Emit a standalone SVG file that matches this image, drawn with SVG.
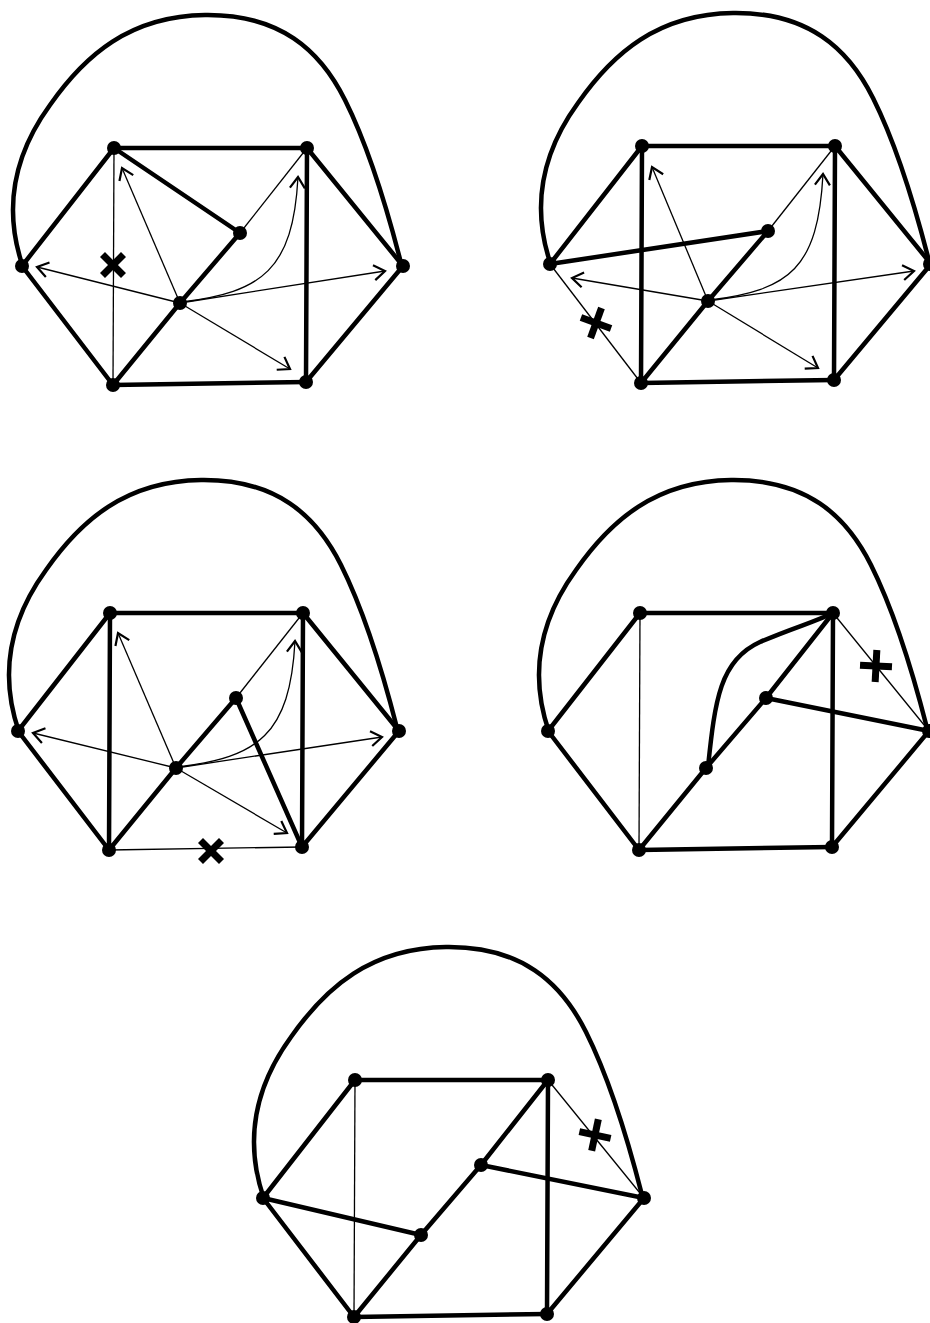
<svg xmlns="http://www.w3.org/2000/svg" xmlns:xlink="http://www.w3.org/1999/xlink" width="930" height="1323" viewBox="0 0 930 1323">
<style>
.thick{fill:none;stroke:#000;stroke-width:4.5;stroke-linecap:round;stroke-linejoin:round}
.thin{fill:none;stroke:#000;stroke-width:1.3}
.arr{fill:none;stroke:#000;stroke-width:1.3;marker-end:url(#vee)}
.node{fill:#000}
.mark{stroke:#000;stroke-width:7;stroke-linecap:butt}
</style>
<defs>
<marker id="vee" markerUnits="userSpaceOnUse" markerWidth="30" markerHeight="30" viewBox="-15 -15 30 30" refX="0" refY="0" orient="auto" overflow="visible">
<path d="M -11,-7.5 L 0,0 L -11,7.5" fill="none" stroke="#000" stroke-width="2.2"/>
</marker>
<g id="xmark"><line class="mark" x1="-10.5" y1="-10.5" x2="10.5" y2="10.5"/><line class="mark" x1="10.5" y1="-10.5" x2="-10.5" y2="10.5"/></g>
<g id="plusmark"><line class="mark" x1="-16" y1="0" x2="16" y2="0"/><line class="mark" x1="0" y1="-16" x2="0" y2="16"/></g>
<path id="outer" class="thick" d="M 23,267 C 5,215 10,160 50,105 C 85,55 130,16 205,15 C 280,14 320,50 345,100 C 370,150 390,220 401,263"/>
</defs>

<!-- Panel 1 -->
<g id="panel1" transform="translate(0,0)">
<g id="p1-connectors">
<use href="#outer"/>
<line class="thick" x1="114" y1="148" x2="307" y2="148"/>
<line class="thick" x1="114" y1="148" x2="22" y2="266"/>
<line class="thick" x1="22" y1="266" x2="113" y2="385"/>
<line class="thick" x1="113" y1="385" x2="306" y2="382"/>
<line class="thick" x1="307" y1="148" x2="306" y2="382"/>
<line class="thick" x1="307" y1="148" x2="403" y2="266"/>
<line class="thick" x1="403" y1="266" x2="306" y2="382"/>
<line class="thick" x1="114" y1="148" x2="240" y2="233"/>
<line class="thick" x1="240" y1="233" x2="180" y2="303"/>
<line class="thick" x1="180" y1="303" x2="113" y2="385"/>
<line class="thin" x1="114" y1="148" x2="113" y2="385"/>
<line class="thin" x1="240" y1="233" x2="307" y2="148"/>
<line class="arr" x1="180" y1="303" x2="122" y2="168"/>
<line class="arr" x1="180" y1="303" x2="37" y2="267"/>
<line class="arr" x1="180" y1="303" x2="385" y2="271"/>
<line class="arr" x1="180" y1="303" x2="290" y2="369"/>
<path class="arr" d="M 182,302 C 262,292 293,270 298,177"/>
<use href="#xmark" x="113" y="265"/>
</g>
<g id="p1-TL"><circle class="node" cx="114" cy="148" r="7"/></g>
<g id="p1-TR"><circle class="node" cx="307" cy="148" r="7"/></g>
<g id="p1-L"><circle class="node" cx="22" cy="266" r="7"/></g>
<g id="p1-R"><circle class="node" cx="403" cy="266" r="7"/></g>
<g id="p1-BL"><circle class="node" cx="113" cy="385" r="7"/></g>
<g id="p1-BR"><circle class="node" cx="306" cy="382" r="7"/></g>
<g id="p1-M"><circle class="node" cx="240" cy="233" r="7"/></g>
<g id="p1-C"><circle class="node" cx="180" cy="303" r="7"/></g>
</g>

<!-- Panel 2 -->
<g id="panel2" transform="translate(528,-2)">
<g id="p2-connectors">
<use href="#outer"/>
<line class="thick" x1="114" y1="148" x2="307" y2="148"/>
<line class="thick" x1="114" y1="148" x2="22" y2="266"/>
<line class="thick" x1="114" y1="148" x2="113" y2="385"/>
<line class="thick" x1="113" y1="385" x2="306" y2="382"/>
<line class="thick" x1="307" y1="148" x2="306" y2="382"/>
<line class="thick" x1="307" y1="148" x2="403" y2="266"/>
<line class="thick" x1="403" y1="266" x2="306" y2="382"/>
<line class="thick" x1="22" y1="266" x2="240" y2="233"/>
<line class="thick" x1="240" y1="233" x2="180" y2="303"/>
<line class="thick" x1="180" y1="303" x2="113" y2="385"/>
<line class="thin" x1="22" y1="266" x2="113" y2="385"/>
<line class="thin" x1="240" y1="233" x2="307" y2="148"/>
<line class="arr" x1="180" y1="303" x2="124" y2="169"/>
<line class="arr" x1="180" y1="303" x2="44" y2="280"/>
<line class="arr" x1="180" y1="303" x2="386" y2="273"/>
<line class="arr" x1="180" y1="303" x2="290" y2="370"/>
<path class="arr" d="M 182,302 C 262,292 290,270 295,176"/>
<use href="#plusmark" transform="translate(68,325) rotate(20)"/>
</g>
<g id="p2-TL"><circle class="node" cx="114" cy="148" r="7"/></g>
<g id="p2-TR"><circle class="node" cx="307" cy="148" r="7"/></g>
<g id="p2-L"><circle class="node" cx="22" cy="266" r="7"/></g>
<g id="p2-R"><circle class="node" cx="402" cy="266" r="7"/></g>
<g id="p2-BL"><circle class="node" cx="113" cy="385" r="7"/></g>
<g id="p2-BR"><circle class="node" cx="306" cy="382" r="7"/></g>
<g id="p2-M"><circle class="node" cx="240" cy="233" r="7"/></g>
<g id="p2-C"><circle class="node" cx="180" cy="303" r="7"/></g>
</g>

<!-- Panel 3 -->
<g id="panel3" transform="translate(-4,465)">
<g id="p3-connectors">
<use href="#outer"/>
<line class="thick" x1="114" y1="148" x2="307" y2="148"/>
<line class="thick" x1="114" y1="148" x2="22" y2="266"/>
<line class="thick" x1="114" y1="148" x2="113" y2="385"/>
<line class="thick" x1="22" y1="266" x2="113" y2="385"/>
<line class="thick" x1="307" y1="148" x2="306" y2="382"/>
<line class="thick" x1="307" y1="148" x2="403" y2="266"/>
<line class="thick" x1="403" y1="266" x2="306" y2="382"/>
<line class="thick" x1="240" y1="233" x2="180" y2="303"/>
<line class="thick" x1="180" y1="303" x2="113" y2="385"/>
<line class="thick" x1="240" y1="233" x2="306" y2="382"/>
<line class="thin" x1="113" y1="385" x2="306" y2="382"/>
<line class="thin" x1="240" y1="233" x2="307" y2="148"/>
<line class="arr" x1="180" y1="303" x2="122" y2="168"/>
<line class="arr" x1="180" y1="303" x2="37" y2="268"/>
<line class="arr" x1="180" y1="303" x2="386" y2="272"/>
<line class="arr" x1="180" y1="303" x2="291" y2="368"/>
<path class="arr" d="M 182,302 C 262,292 294,270 299,176"/>
<use href="#xmark" x="215" y="386"/>
</g>
<g id="p3-TL"><circle class="node" cx="114" cy="148" r="7"/></g>
<g id="p3-TR"><circle class="node" cx="307" cy="148" r="7"/></g>
<g id="p3-L"><circle class="node" cx="22" cy="266" r="7"/></g>
<g id="p3-R"><circle class="node" cx="403" cy="266" r="7"/></g>
<g id="p3-BL"><circle class="node" cx="113" cy="385" r="7"/></g>
<g id="p3-BR"><circle class="node" cx="306" cy="382" r="7"/></g>
<g id="p3-M"><circle class="node" cx="240" cy="233" r="7"/></g>
<g id="p3-C"><circle class="node" cx="180" cy="303" r="7"/></g>
</g>

<!-- Panel 4 -->
<g id="panel4" transform="translate(526,465)">
<g id="p4-connectors">
<use href="#outer"/>
<line class="thick" x1="114" y1="148" x2="307" y2="148"/>
<line class="thick" x1="114" y1="148" x2="22" y2="266"/>
<line class="thick" x1="22" y1="266" x2="113" y2="385"/>
<line class="thick" x1="113" y1="385" x2="306" y2="382"/>
<line class="thick" x1="307" y1="148" x2="306" y2="382"/>
<line class="thick" x1="403" y1="266" x2="306" y2="382"/>
<line class="thick" x1="307" y1="148" x2="240" y2="233"/>
<line class="thick" x1="240" y1="233" x2="180" y2="303"/>
<line class="thick" x1="180" y1="303" x2="113" y2="385"/>
<line class="thick" x1="240" y1="233" x2="403" y2="266"/>
<path class="thick" d="M 182,302 C 189,235 194,195 234,177 C 269,162 289,157 307,148"/>
<line class="thin" x1="114" y1="148" x2="113" y2="385"/>
<line class="thin" x1="307" y1="148" x2="403" y2="266"/>
<use href="#plusmark" transform="translate(350,201) rotate(3)"/>
</g>
<g id="p4-TL"><circle class="node" cx="114" cy="148" r="7"/></g>
<g id="p4-TR"><circle class="node" cx="307" cy="148" r="7"/></g>
<g id="p4-L"><circle class="node" cx="22" cy="266" r="7"/></g>
<g id="p4-R"><circle class="node" cx="403" cy="266" r="7"/></g>
<g id="p4-BL"><circle class="node" cx="113" cy="385" r="7"/></g>
<g id="p4-BR"><circle class="node" cx="306" cy="382" r="7"/></g>
<g id="p4-M"><circle class="node" cx="240" cy="233" r="7"/></g>
<g id="p4-C"><circle class="node" cx="180" cy="303" r="7"/></g>
</g>

<!-- Panel 5 -->
<g id="panel5" transform="translate(241,932)">
<g id="p5-connectors">
<use href="#outer"/>
<line class="thick" x1="114" y1="148" x2="307" y2="148"/>
<line class="thick" x1="114" y1="148" x2="22" y2="266"/>
<line class="thick" x1="22" y1="266" x2="113" y2="385"/>
<line class="thick" x1="113" y1="385" x2="306" y2="382"/>
<line class="thick" x1="307" y1="148" x2="306" y2="382"/>
<line class="thick" x1="403" y1="266" x2="306" y2="382"/>
<line class="thick" x1="307" y1="148" x2="240" y2="233"/>
<line class="thick" x1="240" y1="233" x2="180" y2="303"/>
<line class="thick" x1="180" y1="303" x2="113" y2="385"/>
<line class="thick" x1="240" y1="233" x2="403" y2="266"/>
<line class="thick" x1="22" y1="266" x2="180" y2="303"/>
<line class="thin" x1="114" y1="148" x2="113" y2="385"/>
<line class="thin" x1="307" y1="148" x2="403" y2="266"/>
<use href="#plusmark" transform="translate(354,203) rotate(12)"/>
</g>
<g id="p5-TL"><circle class="node" cx="114" cy="148" r="7"/></g>
<g id="p5-TR"><circle class="node" cx="307" cy="148" r="7"/></g>
<g id="p5-L"><circle class="node" cx="22" cy="266" r="7"/></g>
<g id="p5-R"><circle class="node" cx="403" cy="266" r="7"/></g>
<g id="p5-BL"><circle class="node" cx="113" cy="385" r="7"/></g>
<g id="p5-BR"><circle class="node" cx="306" cy="382" r="7"/></g>
<g id="p5-M"><circle class="node" cx="240" cy="233" r="7"/></g>
<g id="p5-C"><circle class="node" cx="180" cy="303" r="7"/></g>
</g>
</svg>
